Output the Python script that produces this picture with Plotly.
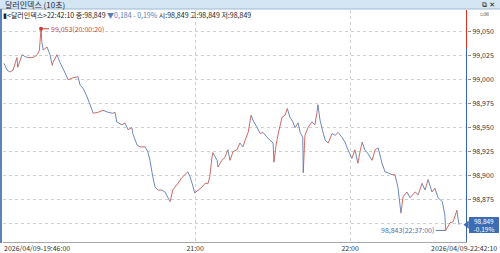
import plotly.graph_objects as go

# ---------------- data ----------------
DATE = "2026-04-09"
SYMBOL = "달러인덱스"
PERIOD = "10초"

times = ["19:46:00", "19:47:10", "19:48:20", "19:49:30", "19:51:00", "19:51:20", "19:53:00", "19:54:10",
         "19:55:20", "19:56:50", "19:58:00", "19:58:50", "19:59:40", "20:00:20", "20:00:40", "20:01:10",
         "20:02:40", "20:03:50", "20:04:40", "20:05:00", "20:06:30", "20:07:40", "20:09:40", "20:10:50",
         "20:12:40", "20:14:40", "20:15:30", "20:16:40", "20:18:10", "20:19:20", "20:20:30", "20:22:20",
         "20:24:20", "20:26:20", "20:28:10", "20:29:00", "20:29:40", "20:31:40", "20:32:50", "20:34:00",
         "20:35:30", "20:35:50", "20:37:30", "20:38:40", "20:40:40", "20:41:40", "20:42:30", "20:43:20",
         "20:43:40", "20:44:30", "20:45:40", "20:47:10", "20:48:20", "20:49:30", "20:50:20", "20:51:20",
         "20:52:10", "20:53:20", "20:54:50", "20:56:00", "20:57:10", "20:58:00", "20:58:50", "20:59:50",
         "21:01:10", "21:02:40", "21:03:50", "21:05:00", "21:05:40", "21:06:30", "21:06:50", "21:08:30",
         "21:08:50", "21:10:20", "21:11:30", "21:12:40", "21:13:30", "21:14:40", "21:16:10", "21:17:20",
         "21:18:30", "21:19:20", "21:20:30", "21:21:40", "21:22:20", "21:23:50", "21:25:10", "21:26:20",
         "21:27:50", "21:29:00", "21:30:10", "21:30:30", "21:31:20", "21:32:10", "21:33:40", "21:34:50",
         "21:35:40", "21:36:40", "21:37:50", "21:38:40", "21:39:50", "21:40:40", "21:41:40", "21:41:50",
         "21:42:30", "21:43:40", "21:45:10", "21:46:20", "21:47:10", "21:47:30", "21:48:20", "21:49:30",
         "21:50:20", "21:51:30", "21:53:00", "21:54:10", "21:55:20", "21:56:50", "21:58:00", "21:58:50",
         "21:59:50", "22:00:40", "22:01:50", "22:03:00", "22:03:50", "22:04:40", "22:05:40", "22:06:50",
         "22:08:30", "22:09:40", "22:10:50", "22:12:20", "22:13:30", "22:14:40", "22:16:10", "22:17:20",
         "22:18:30", "22:19:40", "22:20:30", "22:22:00", "22:23:10", "22:25:10", "22:26:20", "22:27:50",
         "22:29:00", "22:30:10", "22:31:40", "22:32:50", "22:34:00", "22:35:40", "22:36:40", "22:37:00",
         "22:38:40", "22:39:50", "22:41:20", "22:41:40", "22:42:10"]

closes = [99.017, 99.010, 99.008, 99.010, 99.023, 99.013, 99.026, 99.024,
          99.023, 99.023, 99.024, 99.026, 99.030, 99.053, 99.039, 99.031,
          99.034, 99.026, 99.015, 99.018, 99.026, 99.018, 99.007, 99.000,
          99.002, 99.003, 98.994, 98.991, 98.982, 98.974, 98.965, 98.966,
          98.968, 98.966, 98.965, 98.966, 98.956, 98.953, 98.955, 98.948,
          98.950, 98.944, 98.932, 98.930, 98.930, 98.925, 98.916, 98.903,
          98.898, 98.888, 98.885, 98.885, 98.883, 98.877, 98.873, 98.885,
          98.888, 98.892, 98.898, 98.901, 98.904, 98.899, 98.892, 98.882,
          98.885, 98.888, 98.892, 98.892, 98.899, 98.919, 98.924, 98.916,
          98.909, 98.916, 98.919, 98.927, 98.916, 98.925, 98.927, 98.934,
          98.930, 98.937, 98.945, 98.963, 98.958, 98.951, 98.944, 98.945,
          98.940, 98.937, 98.934, 98.914, 98.932, 98.944, 98.961, 98.963,
          98.970, 98.961, 98.956, 98.950, 98.955, 98.945, 98.940, 98.903,
          98.942, 98.950, 98.956, 98.953, 98.966, 98.974, 98.958, 98.945,
          98.937, 98.934, 98.944, 98.942, 98.945, 98.940, 98.935, 98.929,
          98.923, 98.918, 98.927, 98.913, 98.925, 98.935, 98.927, 98.923,
          98.916, 98.927, 98.929, 98.913, 98.904, 98.903, 98.901, 98.901,
          98.888, 98.861, 98.878, 98.883, 98.877, 98.883, 98.880, 98.892,
          98.885, 98.896, 98.883, 98.887, 98.877, 98.873, 98.859, 98.843,
          98.851, 98.852, 98.864, 98.857, 98.849]

change = 0.184
pct_change = -0.19
high_time, high_val = "20:00:20", 99.053
low_time, low_val = "22:37:00", 98.843

ytick_vals = [98.875, 98.900, 98.925, 98.950, 98.975, 99.000, 99.025, 99.050]
ygrid_extra = [98.850]
xtick_times = ["21:00:00", "22:00:00"]
xtick_text = ["21:00", "22:00"]

# ---------------- helpers ----------------
def fmt(v, d=3):
    return f"{v:.{d}f}".replace(".", ",")

def ts(t):
    return f"{DATE} {t}"

RED = "#c95a55"
BLUE = "#5a7cb5"
BOX = "#3d6cb4"
FONT = "Noto Sans CJK KR"

x = [ts(t) for t in times]

# split the price path into rising (red) and falling (blue) segments
up_x, up_y, dn_x, dn_y = [], [], [], []
for i in range(1, len(closes)):
    seg_x = [x[i - 1], x[i], None]
    seg_y = [closes[i - 1], closes[i], None]
    if closes[i] >= closes[i - 1]:
        up_x += seg_x
        up_y += seg_y
    else:
        dn_x += seg_x
        dn_y += seg_y

last = closes[-1]
prev_close = last + change
x_start = ts("19:45:37")
x_end = ts("22:45:14")
y_lo, y_hi = 98.8309, 99.0726

fig = go.Figure()
fig.add_trace(go.Scatter(x=dn_x, y=dn_y, mode="lines", line=dict(color=BLUE, width=0.9),
                         showlegend=False, hoverinfo="skip", connectgaps=False))
fig.add_trace(go.Scatter(x=up_x, y=up_y, mode="lines", line=dict(color=RED, width=0.9),
                         showlegend=False, hoverinfo="skip", connectgaps=False))

# right axis line: red above previous close, blue below
fig.add_trace(go.Scatter(x=[x_end, x_end], y=[prev_close, y_hi], mode="lines",
                         line=dict(color="#e0301e", width=2), cliponaxis=False,
                         showlegend=False, hoverinfo="skip"))
fig.add_trace(go.Scatter(x=[x_end, x_end], y=[y_lo, prev_close], mode="lines",
                         line=dict(color="#3a64ad", width=2), cliponaxis=False,
                         showlegend=False, hoverinfo="skip"))
# high marker
fig.add_trace(go.Scatter(x=[ts(high_time)], y=[high_val], mode="markers",
                         marker=dict(color="#d03a30", size=4), cliponaxis=False,
                         showlegend=False, hoverinfo="skip"))
# current price pointer
fig.add_trace(go.Scatter(x=[x_end], y=[last], mode="markers",
                         marker=dict(color=BOX, size=7, symbol="triangle-left", line=dict(width=0)),
                         cliponaxis=False, showlegend=False, hoverinfo="skip"))

H = 253
W = 500
fig.update_layout(
    width=W, height=H,
    margin=dict(l=0, r=0, t=0, b=0),
    paper_bgcolor="white", plot_bgcolor="white",
    font=dict(family=FONT, size=7, color="#333333"),
    xaxis=dict(type="date", range=[x_start, x_end], domain=[3 / W, 467 / W],
               rangeslider=dict(visible=False),
               tickvals=[ts(t) for t in xtick_times], ticktext=xtick_text,
               showgrid=True, gridcolor="#cfcfcf", griddash="dot", gridwidth=1,
               showline=True, linecolor="#a8a8a8", linewidth=1,
               ticks="", tickfont=dict(size=7, color="#333333"), zeroline=False),
    yaxis=dict(range=[y_lo, y_hi], domain=[1 - 242 / H, 1 - 10 / H], side="right",
               tickvals=ytick_vals, ticktext=[fmt(v) for v in ytick_vals],
               showgrid=True, gridcolor="#cfcfcf", griddash="dot", gridwidth=1,
               minor=dict(tickvals=ygrid_extra, showgrid=True, gridcolor="#cfcfcf",
                          griddash="dot", gridwidth=1, ticks=""),
               showline=False, ticks="outside", ticklen=3, tickcolor="#888888",
               tickfont=dict(size=7, color="#333333"), zeroline=False),
)

shapes = [
    dict(type="rect", xref="paper", yref="paper", x0=0, x1=1, y0=1 - 9 / H, y1=1,
         fillcolor="#d4e5f3", line=dict(width=0), layer="above"),
    dict(type="line", xref="paper", yref="paper", x0=0, x1=1, y0=1 - 9 / H, y1=1 - 9 / H,
         line=dict(color="#9fb9d2", width=1), layer="above"),
    dict(type="rect", xref="paper", yref="paper", x0=0, x1=2 / W, y0=1 - 243 / H, y1=1 - 9 / H,
         fillcolor="#5b83be", line=dict(width=0), layer="above"),
]
fig.update_layout(shapes=shapes)

anns = [
    dict(xref="paper", yref="paper", x=3 / W, y=1 - 4.5 / H, xanchor="left", yanchor="middle",
         text=f"{SYMBOL} ({PERIOD})", showarrow=False, font=dict(size=8, color="#1d2b3c")),
    dict(xref="paper", yref="paper", x=497 / W, y=1 - 4.5 / H, xanchor="right", yanchor="middle",
         text="⧉ ✕", showarrow=False, font=dict(size=7, color="#222222", family="DejaVu Sans")),
    dict(xref="paper", yref="paper", x=491 / W, y=1 - 13.5 / H, xanchor="right", yanchor="middle",
         text="▫⊠", showarrow=False, font=dict(size=6, color="#777777", family="DejaVu Sans")),
    dict(xref="paper", yref="paper", x=1 / W, y=1 - 14.5 / H, xanchor="left", yanchor="middle",
         text=(f"▮<{SYMBOL}>{times[-1]} 종:{fmt(last)} "
               f"<span style='color:{BLUE}'>▼{fmt(change)} - {fmt(abs(pct_change), 2)}%</span> "
               f"시:{fmt(last)} 고:{fmt(last)} 저:{fmt(last)}"),
         showarrow=False, font=dict(size=7, color="#222222")),
    # high annotation
    dict(x=ts(high_time), y=high_val, xref="x", yref="y", text=f"{fmt(high_val)}({high_time})",
         showarrow=True, arrowhead=0, arrowwidth=1, arrowcolor="#d03a30", ax=8, ay=0,
         xanchor="left", yanchor="middle", font=dict(size=7, color="#c8473f")),
    # low annotation
    dict(x=ts(low_time), y=low_val, xref="x", yref="y", text=f"{fmt(low_val)}({low_time})",
         showarrow=True, arrowhead=0, arrowwidth=1, arrowcolor="#5a78aa", ax=-10, ay=0,
         xanchor="right", yanchor="middle", font=dict(size=7, color="#4f6fa8")),
    # current price box (two stacked labels, touching)
    dict(xref="paper", yref="y", x=484 / W, y=last, xanchor="center", yanchor="bottom",
         text=fmt(last), showarrow=False, bgcolor=BOX, borderpad=0, borderwidth=0,
         width=30, height=7.5, font=dict(size=6.5, color="white")),
    dict(xref="paper", yref="y", x=484 / W, y=last, xanchor="center", yanchor="top",
         text=f"{'-' if pct_change < 0 else ''}{fmt(abs(pct_change), 2)}%",
         showarrow=False, bgcolor=BOX, borderpad=0, borderwidth=0,
         width=30, height=7.5, font=dict(size=6.5, color="white")),
    # endpoint date labels
    dict(xref="paper", yref="paper", x=2 / W, y=1 - 247.5 / H, xanchor="left", yanchor="middle",
         text=f"{DATE.replace('-', '/')}-{times[0]}", showarrow=False, font=dict(size=7)),
    dict(xref="paper", yref="paper", x=499 / W, y=1 - 247.5 / H, xanchor="right", yanchor="middle",
         text=f"{DATE.replace('-', '/')}-{times[-1]}", showarrow=False, font=dict(size=7)),
]
fig.update_layout(annotations=anns)

fig.write_html("out.html")
